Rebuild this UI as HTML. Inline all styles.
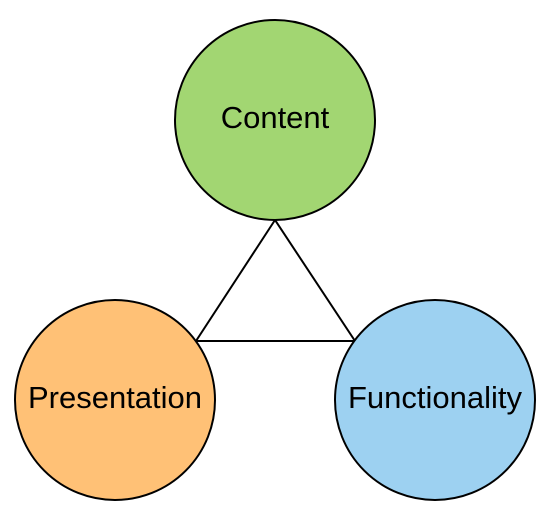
<!DOCTYPE html>
<html><head><style>body{margin:0;background:#fff}svg{display:block}</style></head>
<body>
<svg width="550" height="520" viewBox="0 0 550 520" xmlns="http://www.w3.org/2000/svg">
<polygon points="275,220 196,341 355,341" fill="none" stroke="#000" stroke-width="2"/>
<circle cx="275" cy="120" r="100" fill="#a2d672" stroke="#000" stroke-width="2"/>
<circle cx="115" cy="400" r="100" fill="#ffc176" stroke="#000" stroke-width="2"/>
<circle cx="435" cy="400" r="100" fill="#9dd1f1" stroke="#000" stroke-width="2"/>
<g font-family="Liberation Sans, sans-serif" font-size="31" text-anchor="middle" fill="#000">
<text x="275" y="128">Content</text>
<text x="115" y="408">Presentation</text>
<text x="435" y="408">Functionality</text>
</g>
</svg>
</body></html>
